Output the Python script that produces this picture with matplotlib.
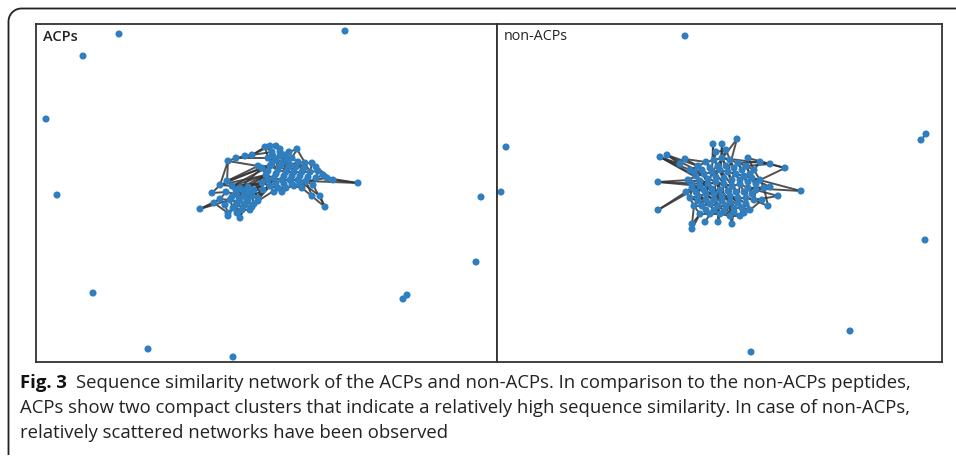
import matplotlib
matplotlib.use("Agg")
import matplotlib.pyplot as plt
from matplotlib.collections import LineCollection
import numpy as np

# ---------------- data (pixel coordinates) ----------------
panel_titles = ["ACPs", "non-ACPs"]

acp_nodes = [
    (265,147),(270,146),(276,146),(280,149),(297,149),(272,152),(285,155),(292,158),(268,158),(276,160),
    (283,162),(290,165),(298,162),(305,163),(312,163),(316,167),(270,166),(278,170),(286,172),(294,172),
    (302,172),(310,172),(318,171),(323,175),(327,178),(266,175),(274,178),(282,180),(290,180),(298,180),
    (306,181),(270,186),(278,188),(286,188),(294,186),(302,188),(262,183),(313,185),(262,168),
    (358,183),(325,207),(320,196),(312,196),(333,180),
    (232,186),(240,188),(248,187),(254,190),(226,192),(236,194),(244,196),(252,196),(258,198),(230,200),
    (238,202),(246,203),(254,204),(220,199),(233,208),(242,210),(250,210),(228,213),(240,218),(228,216),
    (200,209),(212,193),(220,185),(227,181),(258,201),
    (228,161),(236,158),(245,156),(252,155),(258,166),(214,203),
    (119,34),(345,31),(83,56),(46,119),(57,195),(481,197),(476,262),(93,293),(403,299),(407,295),
    (148,349),(233,357),
    (273,156),(280,156),(288,160),(272,163),(280,166),(288,168),(296,167),(304,168),(268,171),(276,174),
    (284,176),(292,176),(300,176),(308,177),(316,178),(268,180),(276,183),(284,184),(292,184),(300,184),
    (274,192),(282,192),(263,190),(280,152),(289,152),
    (236,190),(244,191),(250,193),(232,197),(240,199),(248,200),(236,205),(244,206),(252,207),(225,205),
    (237,213),
]
acp_edges = [
    (0,1),(1,2),(2,3),(0,5),(5,8),(3,6),(4,7),(6,7),(8,9),(9,10),(10,11),(11,12),(12,13),(13,14),(14,15),
    (7,12),(6,10),(16,17),(17,18),(18,19),(19,20),(20,21),(21,22),(22,23),(23,24),(25,26),(26,27),(27,28),
    (28,29),(29,30),(31,32),(32,33),(33,34),(34,35),(36,31),(38,16),(9,17),(10,18),(11,19),(12,20),(13,21),
    (15,22),(16,25),(17,26),(18,27),(19,28),(20,29),(21,30),(26,32),(27,33),(28,34),(29,35),(30,37),(1,9),
    (2,6),(0,8),(38,25),(36,25),(5,16),(3,10),(4,13),(24,30),(14,21),(8,17),(9,18),(26,31),
    (24,39),(30,39),(43,39),(41,40),(37,40),(35,40),(29,41),(30,42),(23,43),(15,43),
    (36,47),(36,52),(25,46),(31,52),(32,68),(26,47),(31,56),(16,47),(25,45),(36,51),
    (44,45),(45,46),(46,47),(48,49),(49,50),(50,51),(51,52),(53,54),(54,55),(55,56),(57,53),(58,59),
    (59,60),(61,58),(62,59),(63,61),(44,49),(45,50),(46,51),(47,52),(49,54),(50,55),(51,56),(53,58),
    (54,59),(55,60),(48,57),(52,68),(56,68),(64,57),(64,53),(65,48),(66,44),(67,44),(65,66),(62,55),
    (63,58),(44,50),(45,51),(49,53),(74,64),(74,61),(74,57),
    (69,70),(70,71),(71,72),(72,0),(69,73),(73,16),(67,73),(67,38),(66,38),(69,66),(70,8),(71,5),
    (72,1),(73,38),(69,67),(66,25),(44,36),
    (83,84),
    (87,5),(87,9),(88,6),(88,3),(89,7),(89,11),(90,8),(90,16),(91,9),(91,17),(92,10),(92,18),(93,11),
    (93,19),(94,12),(94,20),(95,16),(95,25),(96,17),(96,26),(97,18),(97,27),(98,19),(98,28),(99,20),
    (99,29),(100,21),(100,30),(101,22),(101,23),(102,25),(102,31),(103,26),(103,32),(104,27),(104,33),
    (105,28),(105,34),(106,29),(106,35),(107,31),(107,32),(108,32),(108,33),(109,36),(109,31),(110,2),
    (110,6),(111,4),(111,6),(109,47),(102,46),(95,73),
    (112,44),(112,49),(113,45),(113,50),(114,46),(114,51),(115,49),(115,53),(116,50),(116,54),(117,51),
    (117,55),(118,54),(118,58),(119,55),(119,59),(120,56),(120,60),(121,57),(121,61),(122,58),(122,62),
    (36,46),(31,51),(25,44),(102,47),(109,52),(16,44),(38,45),(26,52),
]

non_nodes = [
    (690,170),(698,166),(706,162),(714,160),(722,158),(730,160),(738,163),(746,166),(754,170),
    (688,180),(696,176),(704,174),(712,172),(720,170),(728,172),(736,174),(744,176),(752,178),(760,180),
    (692,188),(700,186),(708,184),(716,182),(724,184),(732,186),(740,184),(748,188),(756,190),(764,188),
    (690,198),(698,196),(706,194),(714,194),(722,196),(730,196),(738,198),(746,198),(754,200),
    (694,206),(702,206),(710,204),(718,206),(726,206),(734,208),(742,208),(750,210),
    (700,214),(710,214),(720,214),(730,216),(740,216),
    (716,152),(726,150),(748,158),
    (660,157),(667,155),(658,182),(658,210),(713,144),(722,144),(737,139),(680,164),(685,159),
    (760,162),(770,164),(785,168),(801,191),(778,196),(770,187),(762,200),(732,224),(692,224),
    (692,229),(686,192),(768,206),(718,222),(705,222),
    (685,36),(506,147),(501,192),(921,140),(926,134),(925,240),(850,331),(751,352),
    (694,172),(702,170),(710,168),(718,166),(726,166),(734,168),(742,170),(750,174),
    (692,184),(700,181),(708,179),(716,177),(724,178),(732,180),(740,180),(748,182),(756,184),
    (696,192),(704,190),(712,189),(720,190),(728,191),(736,192),(744,192),(752,194),
    (698,201),(706,200),(714,200),(722,201),(730,202),(738,203),(746,204),
    (706,210),(714,210),(724,211),(734,212),(744,213),
]
non_edges = [
    (0,1),(1,2),(2,3),(3,4),(4,5),(5,6),(6,7),(7,8),(9,10),(10,11),(11,12),(12,13),(13,14),(14,15),
    (15,16),(16,17),(17,18),(19,20),(20,21),(21,22),(22,23),(23,24),(24,25),(25,26),(26,27),(27,28),
    (29,30),(30,31),(31,32),(32,33),(33,34),(34,35),(35,36),(36,37),(38,39),(39,40),(40,41),(41,42),
    (42,43),(43,44),(44,45),(46,47),(47,48),(48,49),(49,50),
    (0,10),(1,11),(2,12),(3,13),(4,14),(5,15),(6,16),(7,17),(8,18),(9,19),(10,20),(11,21),(12,22),
    (13,23),(14,24),(15,25),(16,26),(17,27),(18,28),(19,29),(20,30),(21,31),(22,32),(23,33),(24,34),
    (25,35),(26,36),(27,37),(29,38),(30,39),(31,40),(32,41),(33,42),(34,43),(35,44),(36,45),(38,46),
    (39,47),(41,48),(42,49),(44,50),
    (0,22),(9,24),(10,33),(11,41),(19,32),(20,42),(29,40),(1,21),(12,31),(13,34),(22,43),(21,44),
    (30,48),(31,49),(2,23),(3,24),(4,13),(12,33),(11,32),
    (51,3),(51,52),(52,4),(52,5),(53,7),(53,8),(58,3),(58,12),(59,4),(59,13),(60,14),(60,12),
    (54,0),(54,10),(55,61),(55,1),(61,62),(62,1),(62,2),(56,9),(56,20),(57,19),(57,20),(54,61),
    (54,21),(55,11),(56,21),
    (4,64),(64,65),(7,64),(53,65),(8,63),(63,64),(6,63),
    (66,26),(66,17),(68,17),(68,26),(67,27),(67,37),(69,36),(69,45),(74,37),(74,28),(65,18),
    (70,49),(70,43),(71,46),(72,46),(71,38),(75,48),(76,47),(75,41),(73,19),(73,29),
    (80,81),
    (85,0),(85,10),(85,11),(86,1),(86,11),(86,21),(87,2),(87,12),(88,3),(88,13),(88,22),(89,4),(89,14),
    (90,5),(90,15),(90,24),(91,6),(91,16),(92,7),(92,17),(92,26),(93,9),(93,19),(93,30),(94,10),(94,20),
    (94,32),(95,11),(95,21),(96,12),(96,22),(96,33),(97,13),(97,23),(98,14),(98,24),(98,35),(99,15),
    (99,25),(100,16),(100,26),(100,37),(101,17),(101,27),(102,19),(102,30),(102,40),(103,20),(103,31),
    (104,21),(104,32),(104,42),(105,22),(105,33),(106,23),(106,34),(106,44),(107,24),(107,35),(108,25),
    (108,36),(109,26),(109,37),(110,29),(110,39),(110,47),(111,30),(111,40),(112,31),(112,41),(112,48),
    (113,32),(113,42),(114,33),(114,43),(114,49),(115,34),(115,44),(116,35),(116,45),(116,50),(117,39),
    (117,47),(118,40),(118,48),(119,41),(119,49),(120,42),(120,50),(121,44),(121,45),
]

caption_bold = "Fig. 3"
caption_lines = [
    "Sequence similarity network of the ACPs and non-ACPs. In comparison to the non-ACPs peptides,",
    "ACPs show two compact clusters that indicate a relatively high sequence similarity. In case of non-ACPs,",
    "relatively scattered networks have been observed",
]

# ---------------- figure ----------------
W, H = 956, 457
fig = plt.figure(figsize=(W/100, H/100), dpi=100)
fig.patch.set_facecolor("white")

bg = fig.add_axes([0, 0, 1, 1])
bg.set_xlim(0, W)
bg.set_ylim(H, 0)
bg.axis("off")

# outer rounded frame (top and left side)
r = 13
theta = np.linspace(np.pi, 1.5*np.pi, 30)
fx = np.concatenate([[8.5], 8.5 + r + r*np.cos(theta), [W]])
fy = np.concatenate([[455], 8.5 + r + r*np.sin(theta), [8.5]])
bg.plot(fx, fy, color="#222222", lw=1.3, solid_capstyle="butt")

node_color = "#2f7ebf"
edge_color = "#333333"

def draw_panel(rect_px, nodes, edges, title, fs, weight):
    x0, x1, y0, y1 = rect_px
    ax = fig.add_axes([x0/W, 1 - y1/H, (x1-x0)/W, (y1-y0)/H])
    ax.set_xlim(x0, x1)
    ax.set_ylim(y1, y0)
    ax.set_xticks([]); ax.set_yticks([])
    for s in ax.spines.values():
        s.set_color("#333333"); s.set_linewidth(1.3)
    pts = np.array(nodes, dtype=float)
    segs = [[pts[a], pts[b]] for a, b in edges]
    ax.add_collection(LineCollection(segs, colors=edge_color, linewidths=1.4, alpha=0.85, zorder=1))
    ax.scatter(pts[:, 0], pts[:, 1], s=26, color=node_color, edgecolors="none", zorder=2)
    ax.text(x0 + 7, y0 + 13, title, fontsize=fs, family="Open Sans",
            fontweight=weight, color="#222222", va="center")
    return ax

draw_panel((36, 497, 24, 362), acp_nodes, acp_edges, panel_titles[0], 10.5, "semibold")
draw_panel((497, 942, 24, 362), non_nodes, non_edges, panel_titles[1], 10.3, "normal")

# caption
ys = [383, 408, 433]
fs = 13.3
t = bg.text(20, ys[0], caption_bold, fontsize=fs, family="Open Sans", fontweight="bold",
            color="#111111", va="center")
fig.canvas.draw()
bb = t.get_window_extent()
bg.text(bb.x1 + 9, ys[0], caption_lines[0], fontsize=fs, family="Open Sans", color="#222222", va="center")
for line, y in zip(caption_lines[1:], ys[1:]):
    bg.text(20, y, line, fontsize=fs, family="Open Sans", color="#222222", va="center")

fig.savefig("out.png", dpi=100, facecolor="white")
